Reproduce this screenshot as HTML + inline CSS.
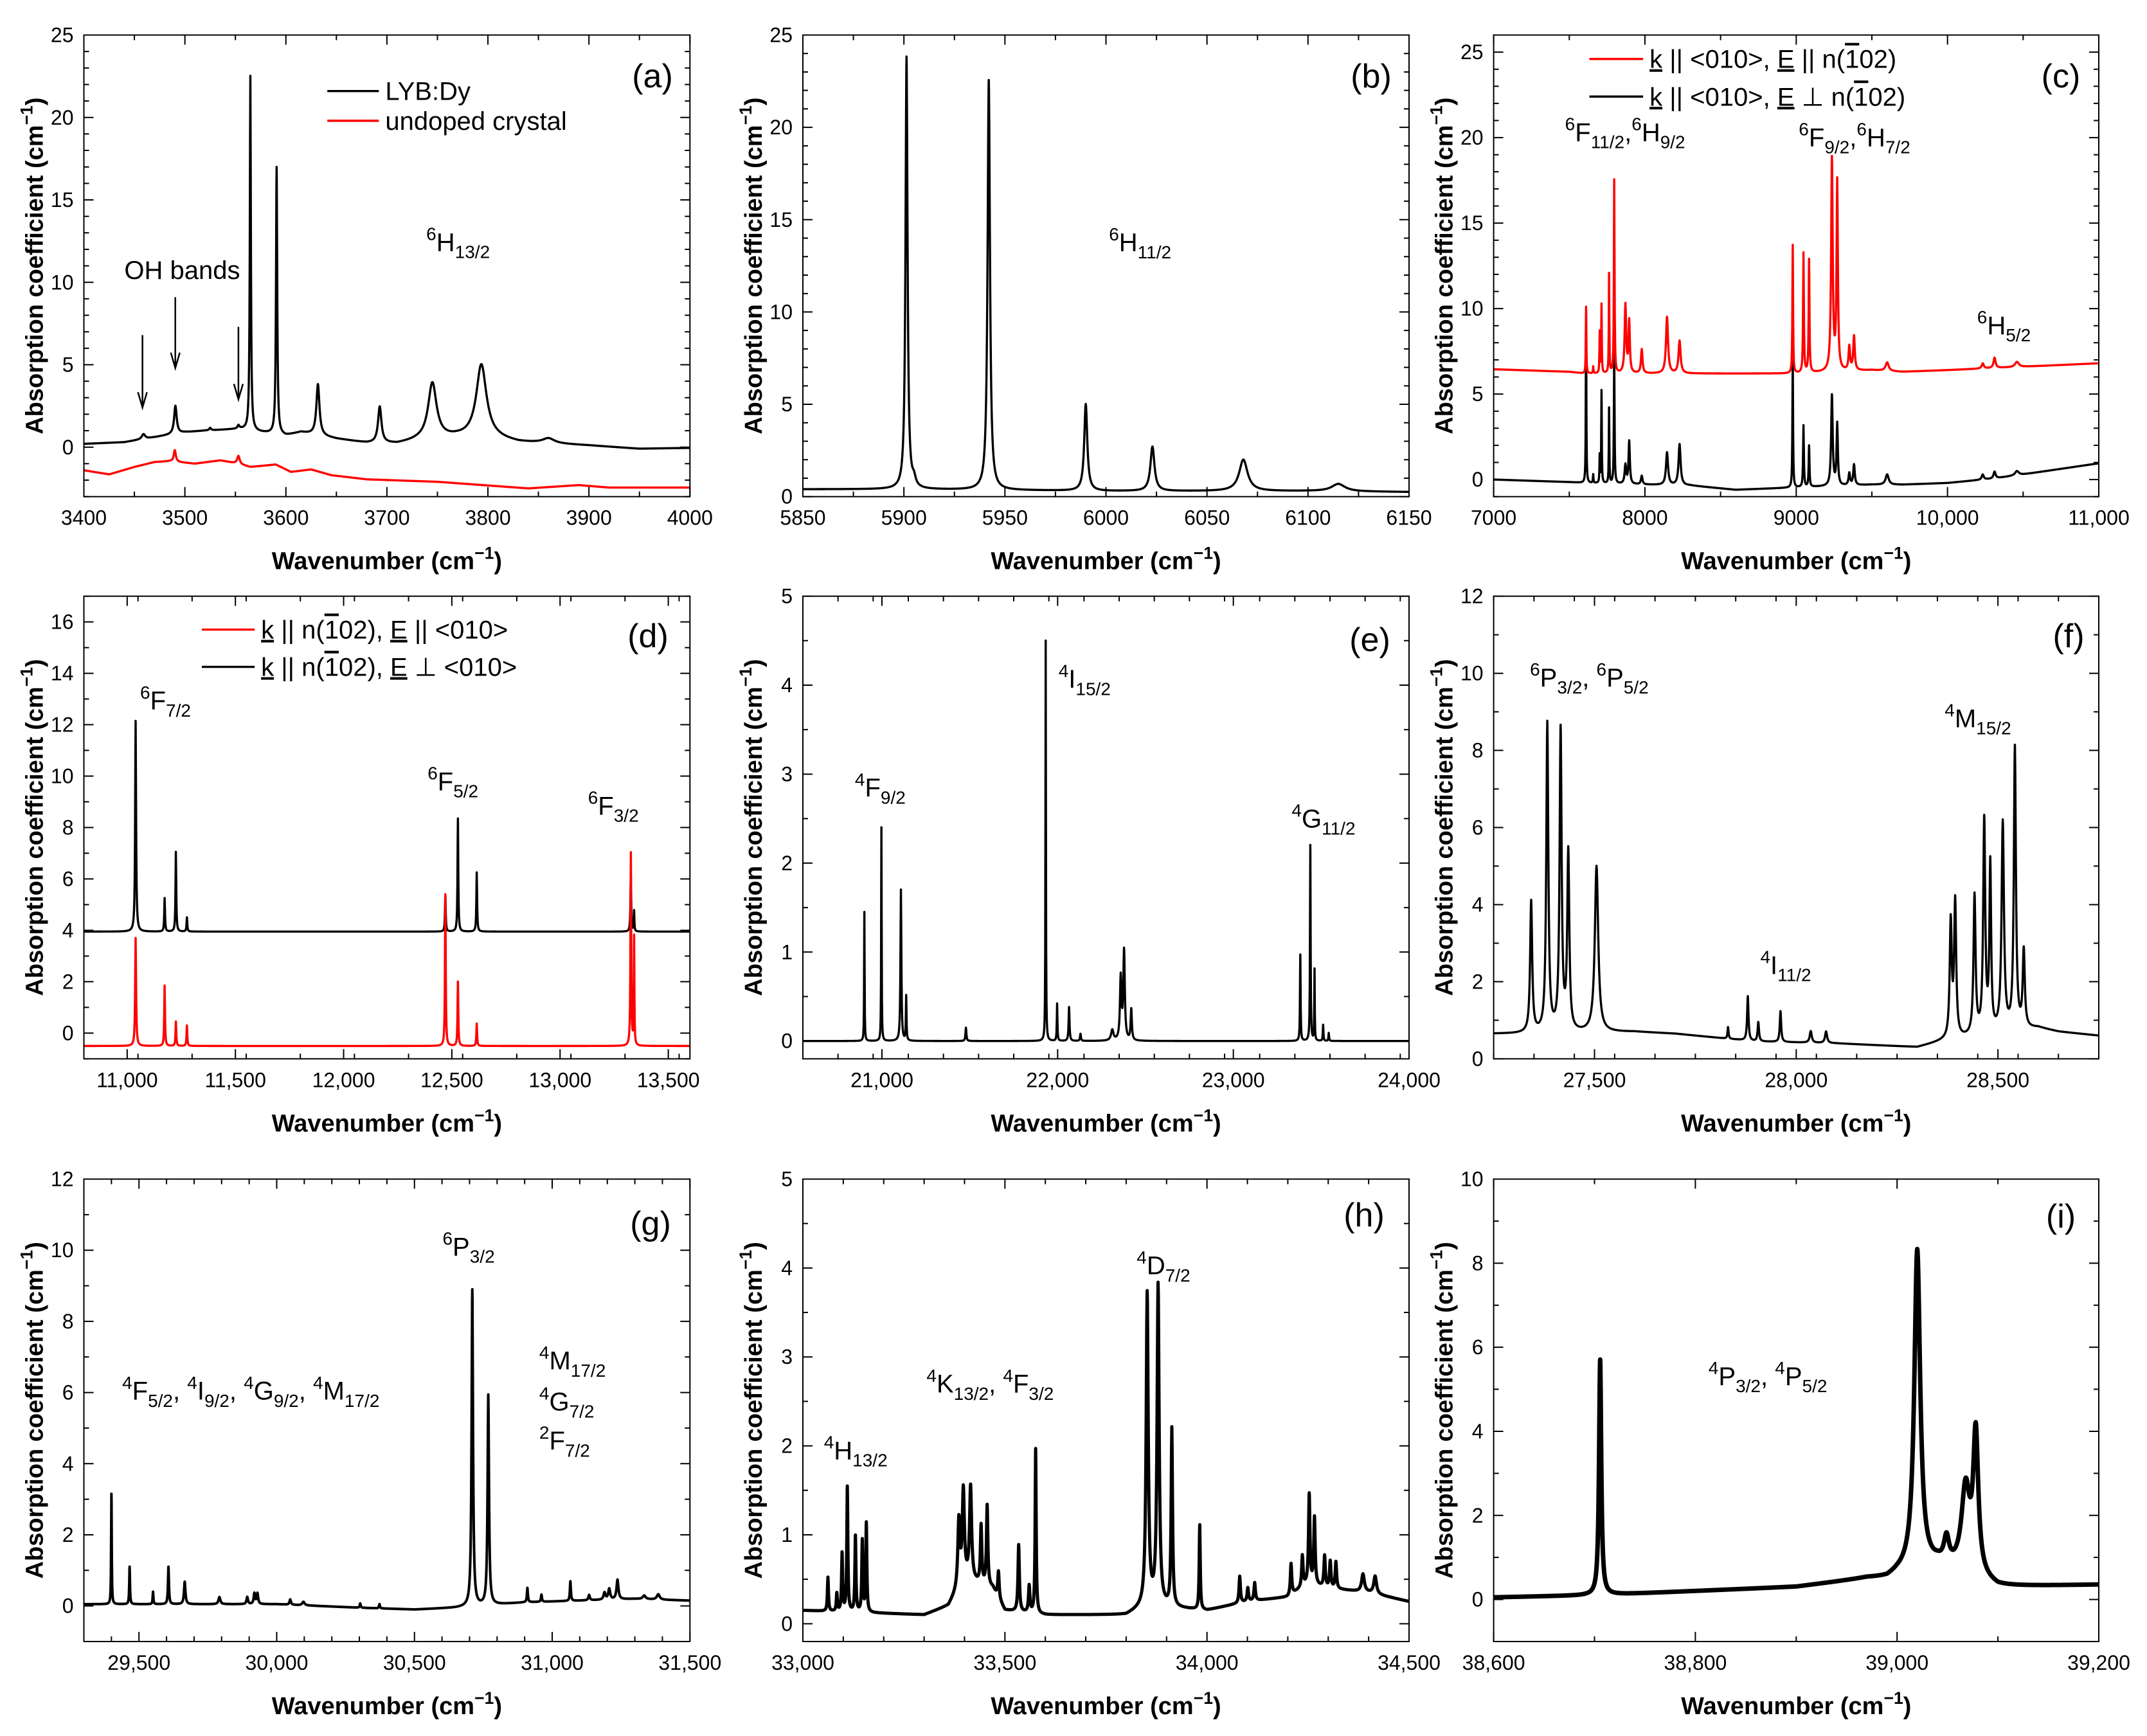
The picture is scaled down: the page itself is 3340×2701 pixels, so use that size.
<!DOCTYPE html>
<html><head><meta charset="utf-8"><title>Dy absorption spectra</title>
<style>
html,body{margin:0;padding:0;background:#fff;}
svg{display:block;font-family:"Liberation Sans",Arial,sans-serif;}
</style></head>
<body>
<svg id="fig" width="3340" height="2701" viewBox="0 0 3340 2701" xmlns="http://www.w3.org/2000/svg">
<rect x="0" y="0" width="3340" height="2701" fill="#fff"/>
</svg>
<script>
// ---------- DATA ----------
// panel a
const aXTicks = [3400,3500,3600,3700,3800,3900,4000];
const aXTickLabels = ["3400","3500","3600","3700","3800","3900","4000"];
const aYTicks = [0,5,10,15,20,25];
const aBlackBaseX = [3400,3440,3470,3500,3520,3555,3575,3600,3615,3650,3680,3710,3730,3770,3800,3830,3900,3950,4000];
const aBlackBaseY = [0.2,0.3,0.6,0.9,1.0,1.1,0.9,0.7,0.9,0.5,0.25,0.2,0.4,0.6,0.6,0.3,0.1,-0.1,-0.05];
const aBlackPeakPos = [3459,3490.6,3525,3553,3564.8,3590.8,3631.7,3692.9,3745,3793.5,3860];
const aBlackPeakHeight = [0.3,1.7,0.15,0.2,21.5,16.2,3.1,2.2,3.4,4.4,0.3];
const aBlackPeakWidth = [2,1.5,1,1,0.6,0.7,1.8,2,5,6,7];
const aRedBaseX = [3400,3425,3450,3470,3485,3510,3535,3548,3565,3590,3605,3625,3645,3680,3750,3840,3890,3920,4000];
const aRedBaseY = [-1.4,-1.65,-1.2,-0.9,-0.85,-1.0,-0.8,-0.95,-1.2,-1.05,-1.5,-1.35,-1.7,-1.95,-2.1,-2.5,-2.3,-2.45,-2.45];
const aRedPeakPos = [3490,3553];
const aRedPeakHeight = [0.7,0.5];
const aRedPeakWidth = [1.2,1.5];
// panel b
const bXTicks = [5850,5900,5950,6000,6050,6100,6150];
const bXTickLabels = ["5850","5900","5950","6000","6050","6100","6150"];
const bYTicks = [0,5,10,15,20,25];
const bBaseX = [5850,5900,5950,6000,6050,6100,6150];
const bBaseY = [0.4,0.4,0.35,0.3,0.3,0.3,0.25];
const bPeakPos = [5901.3,5905,5942,5990,6023,6068,6115];
const bPeakHeight = [23.4,0.4,22.2,4.7,2.4,1.7,0.4];
const bPeakWidth = [0.6,1,0.7,0.9,1.2,2.5,4];
// panel c
const cXTicks = [7000,8000,9000,10000,11000];
const cXTickLabels = ["7000","8000","9000","10,000","11,000"];
const cYTicks = [0,5,10,15,20,25];
const cPeakPos = [7611,7658,7701,7713,7763,7797,7871,7896,7979,8146,8229,8977,9048,9085,9236,9271,9351,9382,9601,10233,10311,10459];
const cPeakWidth = [2,2,2,2,2,2.5,6,5,6,8,8,2.5,3,3,6,5,6,6,12,8,8,15];
const cBlackBaseX = [7000,7500,7600,8000,8300,8600,8900,9500,9700,10000,10300,10500,11000];
const cBlackBaseY = [0,-0.15,-0.2,-0.3,-0.35,-0.6,-0.5,-0.3,-0.3,-0.2,0.05,0.3,0.95];
const cBlackPeakHeight = [9.9,0.5,1.6,5.4,4.4,7.8,1.1,2.5,0.5,1.9,2.4,7.4,3.6,2.4,5.3,3.6,0.7,1.2,0.6,0.3,0.4,0.25];
const cRedBaseX = [7000,7500,7600,8300,8600,9000,9500,9700,10000,11000];
const cRedBaseY = [6.45,6.3,6.2,6.2,6.2,6.2,6.4,6.3,6.4,6.8];
const cRedPeakHeight = [3.9,0.4,2.4,4.0,5.8,11.3,4.0,3.0,1.4,3.3,1.9,7.5,7.0,6.6,12.4,11.0,1.4,2.0,0.5,0.3,0.6,0.3];
// panel d
const dXTicks = [11000,11500,12000,12500,13000,13500];
const dXTickLabels = ["11,000","11,500","12,000","12,500","13,000","13,500"];
const dYTicks = [0,2,4,6,8,10,12,14,16];
const dPeakPos = [11039,11173,11225,11276,12470,12528,12615,13327,13342];
const dPeakWidth = [2.5,2,2,2,2,2,2,2,1.5];
const dBlackBaseX = [10800,13600];
const dBlackBaseY = [3.95,3.95];
const dBlackPeakHeight = [8.2,1.3,3.1,0.55,1.4,4.4,2.3,2.25,0.8];
const dRedBaseX = [10800,13600];
const dRedBaseY = [-0.5,-0.5];
const dRedPeakHeight = [4.2,2.35,0.95,0.8,5.9,2.5,0.87,7.5,4.2];
// panel e
const eXTicks = [21000,22000,23000,24000];
const eXTickLabels = ["21,000","22,000","23,000","24,000"];
const eYTicks = [0,1,2,3,4,5];
const eBaseX = [20500,24000];
const eBaseY = [0,0];
const ePeakPos = [20900,20997,21108,21138,21478,21932,21997,22065,22130,22311,22359,22378,22419,23381,23438,23462,23511,23543];
const ePeakHeight = [1.45,2.4,1.7,0.5,0.15,4.5,0.42,0.38,0.08,0.12,0.7,1.0,0.35,0.97,2.2,0.8,0.18,0.09];
const ePeakWidth = [1.5,1.5,3,2,3,1.5,2,3,3,8,5,5,4,2,2,1.5,2,2];
// panel f
const fXTicks = [27500,28000,28500];
const fXTickLabels = ["27,500","28,000","28,500"];
const fYTicks = [0,2,4,6,8,10,12];
const fBaseX = [27250,27300,27600,27700,27800,27900,28100,28300,28360,28600,28650,28750];
const fBaseY = [0.65,0.65,0.7,0.65,0.55,0.45,0.4,0.3,0.45,0.8,0.7,0.6];
const fPeakPos = [27343,27383,27416,27435,27505,27831,27880,27906,27961,28036,28074,28383,28394,28442,28466,28481,28512,28542,28564];
const fPeakHeight = [3.4,8.0,7.8,4.6,4.3,0.3,1.15,0.5,0.8,0.3,0.3,3.0,3.5,3.6,5.5,4.3,5.4,7.3,2.0];
const fPeakWidth = [3,3,3,3,5,1.5,2,2,2,3,3,3,3,3,3,2.5,3.5,3,3];
// panel g
const gXTicks = [29500,30000,30500,31000,31500];
const gXTickLabels = ["29,500","30,000","30,500","31,000","31,500"];
const gYTicks = [0,2,4,6,8,10,12];
const gBaseX = [29300,29700,30000,30300,30500,30650,30900,31100,31300,31500];
const gBaseY = [0.05,0.05,0.05,-0.05,-0.1,-0.05,0.1,0.15,0.2,0.15];
const gPeakPos = [29400,29466,29551,29607,29666,29792,29893,29919,29930,30049,30097,30303,30373,30710,30768,30910,30961,31066,31134,31190,31207,31237,31334,31385];
const gPeakHeight = [3.1,1.05,0.35,1.05,0.63,0.2,0.2,0.3,0.3,0.15,0.1,0.12,0.12,8.9,5.9,0.4,0.2,0.55,0.15,0.2,0.3,0.55,0.1,0.15];
const gPeakWidth = [1.2,1.5,1.5,2,3,4,3,3,3,3,5,2,2,3,3,2,2,2,3,4,4,4,6,6];
// panel h
const hXTicks = [33000,33500,34000,34500];
const hXTickLabels = ["33,000","33,500","34,000","34,500"];
const hYTicks = [0,1,2,3,4,5];
const hBaseX = [33000,33300,33360,33400,33470,33500,33600,33800,33850,34000,34100,34200,34250,34300,34400,34500];
const hBaseY = [0.15,0.1,0.2,0.5,0.4,0.15,0.1,0.1,0.2,0.15,0.25,0.3,0.45,0.4,0.35,0.25];
const hPeakPos = [33062,33084,33097,33110,33130,33147,33157,33386,33397,33415,33441,33456,33484,33534,33560,33576,33852,33879,33913,33982,34081,34101,34118,34208,34236,34253,34266,34291,34305,34319,34386,34416];
const hPeakHeight = [0.38,0.2,0.65,1.4,0.85,0.8,1.0,0.75,1.0,1.05,0.65,0.9,0.3,0.75,0.3,1.85,3.5,3.6,2.0,0.95,0.3,0.15,0.2,0.35,0.35,1.0,0.75,0.35,0.3,0.3,0.2,0.2];
const hPeakWidth = [1.5,1.5,1.5,1.5,1.5,1.5,1.5,3,3,3,2,2,2,2,2,1.5,3,3,2,1.5,2,2,2,2,2,2,2,2,2,2,4,4];
// panel i
const iXTicks = [38600,38800,39000,39200];
const iXTickLabels = ["38,600","38,800","39,000","39,200"];
const iYTicks = [0,2,4,6,8,10];
const iBaseX = [38600,38700,38800,38900,38970,38990,39000,39040,39100,39200];
const iBaseY = [0.05,0.1,0.2,0.3,0.5,0.5,0.6,0.8,0.3,0.35];
const iPeakPos = [38705.6,39020,39049,39068,39078];
const iPeakHeight = [5.6,7.6,0.6,2.0,3.3];
const iPeakWidth = [1.3,3.5,3,5,3];

// ---------- RENDERING ----------
const NS = "http://www.w3.org/2000/svg";
const fig = document.getElementById("fig");
function mk(tag, attrs, parent){
  const e = document.createElementNS(NS, tag);
  for (const k in attrs) e.setAttribute(k, attrs[k]);
  (parent||fig).appendChild(e);
  return e;
}
function rich(parent, x, y, str, size, opts){
  opts = opts||{};
  const t = mk("text", {x:x, y:y, "font-size":size, fill:"#000"}, parent);
  if (opts.anchor) t.setAttribute("text-anchor", opts.anchor);
  if (opts.weight) t.setAttribute("font-weight", opts.weight);
  if (opts.transform) t.setAttribute("transform", opts.transform);
  let mode = "n", und = false, ovl = false, buf = "", cur = 0;
  function flush(){
    if (!buf) return;
    const s = mk("tspan", {}, t);
    let shift = 0, fs = size;
    if (mode === "sup"){ shift = -0.42*size; fs = 0.7*size; }
    if (mode === "sub"){ shift = 0.28*size; fs = 0.7*size; }
    s.setAttribute("dy", shift - cur); cur = shift;
    s.setAttribute("font-size", fs);
    if (und) s.setAttribute("text-decoration", "underline");
    if (ovl) s.setAttribute("text-decoration", "overline");
    s.textContent = buf; buf = "";
  }
  for (const ch of str){
    if (ch === "{"){ flush(); mode = "sup"; }
    else if (ch === "}" || ch === "]"){ flush(); mode = "n"; }
    else if (ch === "["){ flush(); mode = "sub"; }
    else if (ch === "~"){ flush(); und = !und; }
    else if (ch === "`"){ flush(); ovl = !ovl; }
    else buf += ch;
  }
  flush();
  return t;
}
function interp(xs, ys, x){
  if (x <= xs[0]) return ys[0];
  for (let i = 1; i < xs.length; i++){
    if (x <= xs[i]) return ys[i-1] + (ys[i]-ys[i-1])*(x-xs[i-1])/(xs[i]-xs[i-1]);
  }
  return ys[ys.length-1];
}
let clipId = 0;
function makePanel(c){
  const g = mk("g", {});
  
  
  const L=c.box[0], R=c.box[1], T=c.box[2], B=c.box[3];
  const sx = v => L + (v-c.xr[0])/(c.xr[1]-c.xr[0])*(R-L);
  const sy = v => B - (v-c.yr[0])/(c.yr[1]-c.yr[0])*(B-T);
  c.sx = sx; c.sy = sy; c.g = g;
  const cid = "clip" + (clipId++);
  const cp = mk("clipPath", {id:cid}, g);
  mk("rect", {x:L, y:T, width:R-L, height:B-T}, cp);
  const sg = mk("g", {"clip-path":"url(#"+cid+")"}, g);
  for (const s of c.series){
    const pts = [];
    const step = (c.xr[1]-c.xr[0])/((R-L)*2);
    for (let x = c.xr[0]; x <= c.xr[1]+1e-9; x += step) pts.push(x);
    for (const p of s.pos) pts.push(p);
    pts.sort((a,b)=>a-b);
    let d = "";
    pts.forEach((x,i)=>{
      let y = interp(s.bx, s.by, x);
      for (let k=0;k<s.pos.length;k++){ const u=(x-s.pos[k])/s.w[k]; y += s.h[k]/(1+u*u); }
      d += (i?"L":"M") + sx(x).toFixed(2) + " " + sy(y).toFixed(2);
    });
    const path = mk("path", {d:d, fill:"none", stroke:s.color, "stroke-width":(c.sw||3.4), "stroke-linejoin":"round"}, sg);
    
    
  }
  const fr = mk("rect", {x:L, y:T, width:R-L, height:B-T, fill:"none", stroke:"#000", "stroke-width":2}, g);
  
  
  let td = "";
  const MJ = 15, MN = 8;
  for (let v = c.xr[0]; v <= c.xr[1]+1e-9; v += c.xminor){
    const isMaj = c.xt.some(t=>Math.abs(t-v)<1e-6);
    const len = isMaj?MJ:MN, X = sx(v);
    td += "M"+X+" "+B+"v"+(-len)+"M"+X+" "+T+"v"+len;
  }
  c.xt.forEach(v=>{ const X=sx(v); td += "M"+X+" "+B+"v"+(-MJ)+"M"+X+" "+T+"v"+MJ; });
  const y0 = Math.ceil(c.yr[0]/c.yminor)*c.yminor;
  for (let v = y0; v <= c.yr[1]+1e-9; v += c.yminor){
    const isMaj = c.yt.some(t=>Math.abs(t-v)<1e-6);
    const len = isMaj?MJ:MN, Y = sy(v);
    td += "M"+L+" "+Y+"h"+len+"M"+R+" "+Y+"h"+(-len);
  }
  const tk = mk("path", {d:td, stroke:"#000", "stroke-width":2, fill:"none"}, g);
  
  
  c.xt.forEach((v,i)=>{
    const t = mk("text", {x:sx(v), y:B+44, "font-size":32, "text-anchor":"middle"}, g);
    
    
    t.textContent = c.xl[i];
  });
  c.yt.forEach(v=>{
    const t = mk("text", {x:L-16, y:sy(v)+11, "font-size":32, "text-anchor":"end"}, g);
    
    
    t.textContent = String(v);
  });
  const xt = rich(g, (L+R)/2, B+113, "Wavenumber (cm{−1})", 38, {anchor:"middle", weight:"bold"});
  
  
  const yx = L-64, yy = (T+B)/2;
  const yt = rich(g, yx, yy, "Absorption coefficient (cm{−1})", 38, {anchor:"middle", weight:"bold", transform:"rotate(-90 "+yx+" "+yy+")"});
  
  
  const pl = mk("text", {x:c.lab[0], y:c.lab[1]+18, "font-size":52, "text-anchor":"middle"}, g);
  
  
  pl.textContent = "(" + c.id + ")";
  (c.ann||[]).forEach(a=>{
    const t = rich(g, sx(a[0]), sy(a[1]), a[2], 40);
    
    
  });
  (c.leg||[]).forEach(l=>{
    const ln = mk("line", {x1:sx(l[0]), x2:sx(l[1]), y1:sy(l[2]), y2:sy(l[2]), stroke:l[3], "stroke-width":3.4}, g);
    
    
    const t = rich(g, sx(l[1])+10, sy(l[2])+14, l[4], 40);
    
    
  });
  return c;
}
const C1=[130.5,1073.3], C2=[1249,2192], C3=[2323.6,3265];
const R1=[54.5,772.7], R2=[927.6,1647.4], R3=[1834.5,2554];
const bx=(c,r)=>[c[0],c[1],r[0],r[1]];

const pa = makePanel({id:"a", box:bx(C1,R1), xr:[3400,4000], yr:[-3,25], xt:aXTicks, xl:aXTickLabels, xminor:50, yt:aYTicks, yminor:1, lab:[1015,118],
  series:[
    {name:"undoped-crystal-line", color:"#ff0000", bx:aRedBaseX, by:aRedBaseY, pos:aRedPeakPos, h:aRedPeakHeight, w:aRedPeakWidth},
    {name:"lyb-dy-line", color:"#000", bx:aBlackBaseX, by:aBlackBaseY, pos:aBlackPeakPos, h:aBlackPeakHeight, w:aBlackPeakWidth}],
  ann:[[3440,10.2,"OH bands"],[3739,11.9,"{6}H[13/2]"]],
  leg:[[3641,3692,21.6,"#000","LYB:Dy"],[3641,3692,19.8,"#ff0000","undoped crystal"]]});
[[3458,6.8,2.4],[3490.5,9.1,4.8],[3553,7.3,2.9]].forEach(a=>{
  const X=pa.sx(a[0]), Y1=pa.sy(a[1]), Y2=pa.sy(a[2]);
  const ar = mk("path", {d:"M"+X+" "+Y1+"V"+Y2+"M"+(X-7)+" "+(Y2-24)+"L"+X+" "+Y2+"L"+(X+7)+" "+(Y2-24), stroke:"#000", "stroke-width":2.5, fill:"none"}, pa.g);
  
  
});

makePanel({id:"b", box:bx(C2,R1), xr:[5850,6150], yr:[0,25], xt:bXTicks, xl:bXTickLabels, xminor:25, yt:bYTicks, yminor:1, lab:[2133,118],
  series:[{name:"spectrum-line", color:"#000", bx:bBaseX, by:bBaseY, pos:bPeakPos, h:bPeakHeight, w:bPeakWidth}],
  ann:[[6001.5,13.3,"{6}H[11/2]"]]});

makePanel({id:"c", box:bx(C3,R1), xr:[7000,11000], yr:[-1,26], xt:cXTicks, xl:cXTickLabels, xminor:500, yt:cYTicks, yminor:1, lab:[3206,118],
  series:[
    {name:"e-perp-line", color:"#000", bx:cBlackBaseX, by:cBlackBaseY, pos:cPeakPos, h:cBlackPeakHeight, w:cPeakWidth},
    {name:"e-parallel-line", color:"#ff0000", bx:cRedBaseX, by:cRedBaseY, pos:cPeakPos, h:cRedPeakHeight, w:cPeakWidth}],
  ann:[[7472,19.8,"{6}F[11/2],{6}H[9/2]"],[9017,19.5,"{6}F[9/2],{6}H[7/2]"],[10196,8.5,"{6}H[5/2]"]],
  leg:[[7633,7988,24.6,"#ff0000","~k~ || <010>, ~E~ || n(`1`02)"],[7633,7988,22.4,"#000","~k~ || <010>, ~E~ ⊥ n(`1`02)"]]});

makePanel({id:"d", box:bx(C1,R2), xr:[10800,13600], yr:[-1,17], xt:dXTicks, xl:dXTickLabels, xminor:250, yt:dYTicks, yminor:1, lab:[1008,989],
  series:[
    {name:"e-perp-line", color:"#000", bx:dBlackBaseX, by:dBlackBaseY, pos:dPeakPos, h:dBlackPeakHeight, w:dPeakWidth},
    {name:"e-parallel-line", color:"#ff0000", bx:dRedBaseX, by:dRedBaseY, pos:dPeakPos, h:dRedPeakHeight, w:dPeakWidth}],
  ann:[[11060,12.6,"{6}F[7/2]"],[12388,9.45,"{6}F[5/2]"],[13129,8.5,"{6}F[3/2]"]],
  leg:[[11345,11589,15.7,"#ff0000","~k~ || n(`1`02), ~E~ || <010>"],[11345,11589,14.25,"#000","~k~ || n(`1`02), ~E~ ⊥ <010>"]]});

makePanel({id:"e", box:bx(C2,R2), xr:[20550,24000], yr:[-0.2,5], xt:eXTicks, xl:eXTickLabels, xminor:200, yt:eYTicks, yminor:0.5, lab:[2131,995],
  series:[{name:"spectrum-line", color:"#000", bx:eBaseX, by:eBaseY, pos:ePeakPos, h:ePeakHeight, w:ePeakWidth}],
  ann:[[20846,2.75,"{4}F[9/2]"],[22005,3.97,"{4}I[15/2]"],[23332,2.4,"{4}G[11/2]"]]});

makePanel({id:"f", box:bx(C3,R2), xr:[27250,28750], yr:[0,12], xt:fXTicks, xl:fXTickLabels, xminor:100, yt:fYTicks, yminor:1, lab:[3218,989],
  series:[{name:"spectrum-line", color:"#000", bx:fBaseX, by:fBaseY, pos:fPeakPos, h:fPeakHeight, w:fPeakWidth}],
  ann:[[27340,9.66,"{6}P[3/2], {6}P[5/2]"],[28368,8.6,"{4}M[15/2]"],[27911,2.2,"{4}I[11/2]"]]});

makePanel({id:"g", box:bx(C1,R3), xr:[29300,31500], yr:[-1,12], xt:gXTicks, xl:gXTickLabels, xminor:100, yt:gYTicks, yminor:1, lab:[1012,1903], sw:4,
  series:[{name:"spectrum-line", color:"#000", bx:gBaseX, by:gBaseY, pos:gPeakPos, h:gPeakHeight, w:gPeakWidth}],
  ann:[[29439,5.8,"{4}F[5/2], {4}I[9/2], {4}G[9/2], {4}M[17/2]"],[30602,9.85,"{6}P[3/2]"],[30953,6.65,"{4}M[17/2]"],[30953,5.5,"{4}G[7/2]"],[30953,4.4,"{2}F[7/2]"]]});

makePanel({id:"h", box:bx(C2,R3), xr:[33000,34500], yr:[-0.2,5], xt:hXTicks, xl:hXTickLabels, xminor:100, yt:hYTicks, yminor:0.5, lab:[2122,1890], sw:5,
  series:[{name:"spectrum-line", color:"#000", bx:hBaseX, by:hBaseY, pos:hPeakPos, h:hPeakHeight, w:hPeakWidth}],
  ann:[[33052,1.85,"{4}H[13/2]"],[33306,2.6,"{4}K[13/2], {4}F[3/2]"],[33826,3.93,"{4}D[7/2]"]]});

makePanel({id:"i", box:bx(C3,R3), xr:[38600,39200], yr:[-1,10], xt:iXTicks, xl:iXTickLabels, xminor:100, yt:iYTicks, yminor:1, lab:[3206,1892], sw:7,
  series:[{name:"spectrum-line", color:"#000", bx:iBaseX, by:iBaseY, pos:iPeakPos, h:iPeakHeight, w:iPeakWidth}],
  ann:[[38813,5.1,"{4}P[3/2], {4}P[5/2]"]]});
</script>
</body></html>
